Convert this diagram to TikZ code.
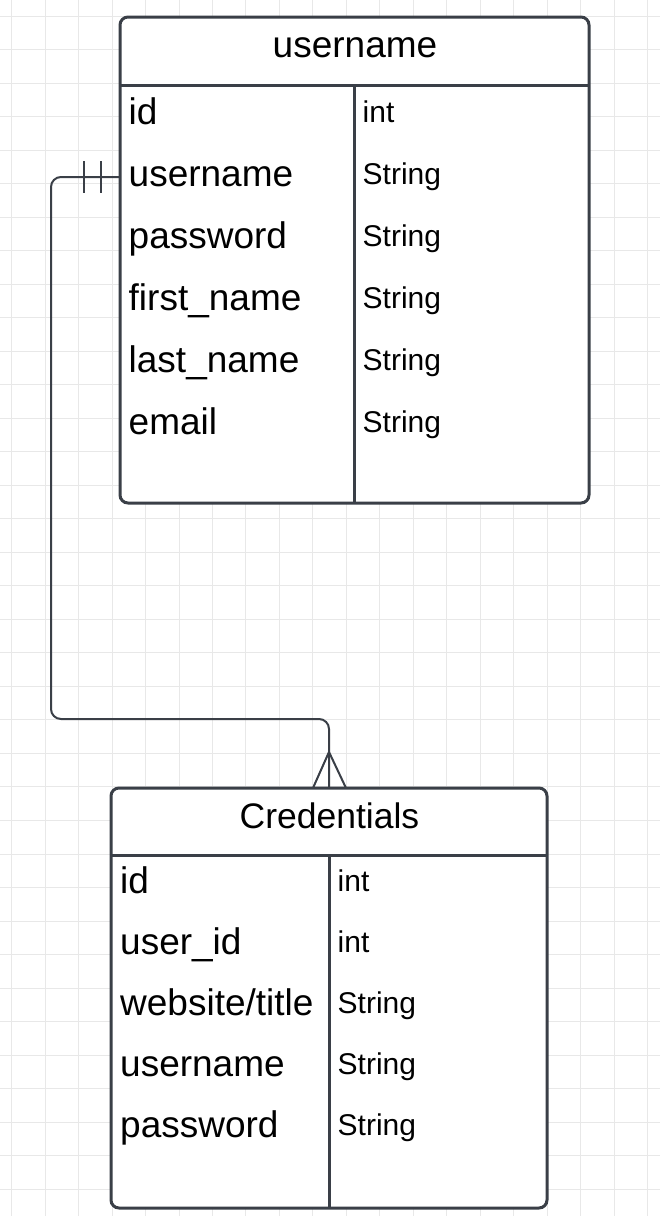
\documentclass[tikz,border=0pt]{standalone}
\usepackage{fontspec}
\setmainfont{Liberation Sans}
\definecolor{edge}{HTML}{3A3F47}
\definecolor{gridc}{HTML}{E8E8E8}
\begin{document}
\begin{tikzpicture}[x=1pt,y=-1pt,
  box/.style={draw=edge, line width=3pt, rounded corners=8pt, fill=white, inner sep=0pt, outer sep=0pt, anchor=north west},
  sep/.style={draw=edge, line width=3pt},
  lbl/.style={anchor=base west, inner sep=0pt, text=black, font=\fontsize{37}{40}\selectfont},
  typ/.style={anchor=base west, inner sep=0pt, text=black, font=\fontsize{30}{32}\selectfont},
  hdr/.style={anchor=base, inner sep=0pt, text=black, font=\fontsize{37}{40}\selectfont},
  conn/.style={draw=edge, line width=2pt},
  gridline/.style={draw=gridc, line width=1pt}]
\fill[white] (0,0) rectangle (660,1216);
\useasboundingbox (0,0) rectangle (660,1216);
% grid
\foreach \i in {0,...,19} \draw[gridline] ({11.7+33.47*\i},0) -- ({11.7+33.47*\i},1216);
\foreach \j in {0,...,35} \draw[gridline] (0,{16+33.52*\j}) -- (660,{16+33.52*\j});

% connector
\coordinate (uport) at (120,177);
\coordinate (cport) at (329,788);
\draw[conn, rounded corners=10pt] (uport) -- (51,177) -- (51,719) -- (329,719) -- (cport);
\draw[conn] (84,161) -- (84,193);
\draw[conn] (101,161) -- (101,193);
\draw[conn] (313,788) -- (329,752) -- (346,788);

% table 1
\node[box, minimum width=469pt, minimum height=486pt] (users) at (120,17) {};
\draw[sep] (120,85) -- (589,85);
\draw[sep] (354,85) -- (354,503);
\node[hdr] (usersh) at (355,57) {username};
\foreach \t [count=\i from 0] in {id,username,password,first\_name,last\_name,email}
  \node[lbl] (ul\i) at (128.5,{124+62*\i}) {\t};
\foreach \t [count=\i from 0] in {int,String,String,String,String,String}
  \node[typ] (ut\i) at (362.5,{122+62*\i}) {\t};

% table 2
\node[box, minimum width=436pt, minimum height=420pt] (cred) at (111,788) {};
\draw[sep] (111,855) -- (547,855);
\draw[sep] (329,855) -- (329,1208);
\node[hdr, font=\fontsize{35.5}{38}\selectfont] (credh) at (329.5,828) {Credentials};
\foreach \t [count=\i from 0] in {id,user\_id,website/title,username,password}
  \node[lbl] (cl\i) at (120,{893+61*\i}) {\t};
\foreach \t [count=\i from 0] in {int,int,String,String,String}
  \node[typ] (ct\i) at (337.5,{891+61*\i}) {\t};
\end{tikzpicture}
\end{document}
